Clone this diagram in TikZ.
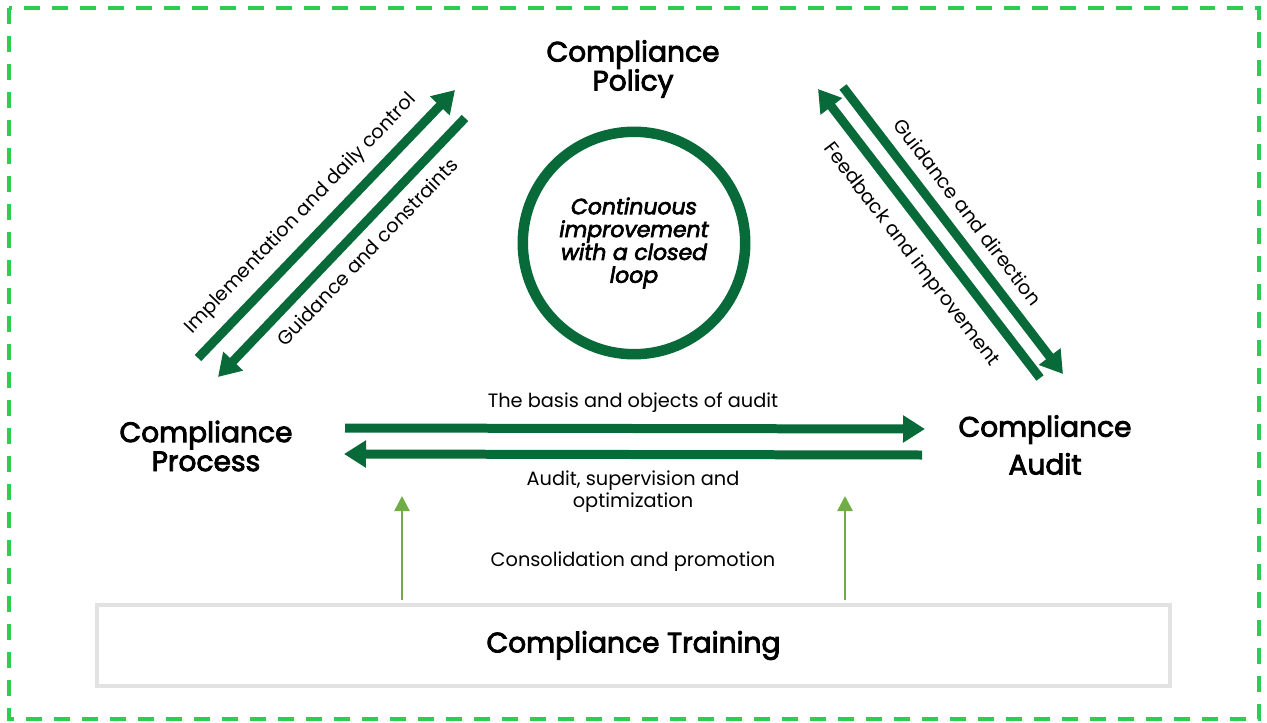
\documentclass[tikz,border=0pt]{standalone}
\usepackage{fontspec}
\setmainfont{Poppins}
\newfontfamily\headfont[FakeBold=3]{Poppins}
\usetikzlibrary{arrows.meta}
\definecolor{deepgreen}{RGB}{8,106,56}
\definecolor{lightgreen}{RGB}{112,173,71}
\definecolor{frame}{RGB}{46,204,80}
\definecolor{boxgrey}{RGB}{226,226,226}
\tikzset{
  title/.style={align=center,font=\headfont\fontsize{16}{16.5}\selectfont},
  lbl/.style={font=\fontsize{11}{12.5}\selectfont},
  flow/.style={draw=deepgreen,line width=0.18cm,-{Triangle[width=0.52cm,length=0.44cm]}},
  feed/.style={draw=lightgreen,line width=0.05cm,-{Triangle[width=0.3cm,length=0.3cm]}},
}
\begin{document}
\begin{tikzpicture}[x=0.02cm,y=-0.02cm]
\useasboundingbox (0,0) rectangle (1267,723);
% outer dashed frame
\draw[frame,line width=0.08cm,dash pattern=on 0.32cm off 0.24cm] (9,8) rectangle (1259,719);

% main blocks
\node[title] (policy) at (633,69) {Compliance\\Policy};
\node[title] (process) at (206,446) {Compliance\\Process};
\node[title,font=\headfont\fontsize{16}{21.5}\selectfont] (audit) at (1045,445) {Compliance\\Audit};
\node[draw=boxgrey,line width=0.07cm,minimum width=21.46cm,minimum height=1.62cm,
      font=\headfont\fontsize{16}{18}\selectfont] (training) at (633.5,645.5) {Compliance Training};

% central loop
\node[circle,draw=deepgreen,line width=0.21cm,minimum size=4.45cm,align=center,
      font=\headfont\fontsize{12.5}{13}\selectfont\itshape] (loop) at (634,243)
      {Continuous\\improvement\\with a closed\\loop};

% policy <-> process
\coordinate (pa) at (198,358);  \coordinate (pb) at (455,90);
\coordinate (pc) at (465,118);  \coordinate (pd) at (218,377);
\draw[flow] (pa) -- (pb);
\draw[flow] (pc) -- (pd);
\node[lbl,rotate=46.2] (l1) at (301,214) {Implementation and daily control};
\node[lbl,rotate=46.2] (l2) at (367,252) {Guidance and constraints};

% policy <-> audit
\coordinate (aa) at (843,87);   \coordinate (ab) at (1063,374);
\coordinate (ac) at (1040,378); \coordinate (ad) at (818,89);
\draw[flow] (aa) -- (ab);
\draw[flow] (ac) -- (ad);
\node[lbl,rotate=-52.5] (l3) at (968,212) {Guidance and direction};
\node[lbl,rotate=-52.5] (l4) at (911,255) {Feedback and improvement};

% process <-> audit
\coordinate (ha) at (345,428);  \coordinate (hb) at (925,429);
\coordinate (hc) at (922,455);  \coordinate (hd) at (344,454);
\draw[flow] (ha) -- (hb);
\draw[flow] (hc) -- (hd);
\node[lbl] (l5) at (633,403) {The basis and objects of audit};
\node[lbl,align=center] (l6) at (633,492) {Audit, supervision and\\optimization};

% training support
\coordinate (ta) at (402,600);  \coordinate (tb) at (402,496);
\coordinate (tc) at (845,600);  \coordinate (td) at (845,496);
\draw[feed] (ta) -- (tb);
\draw[feed] (tc) -- (td);
\node[lbl] (l7) at (633,562) {Consolidation and promotion};
\end{tikzpicture}
\end{document}
